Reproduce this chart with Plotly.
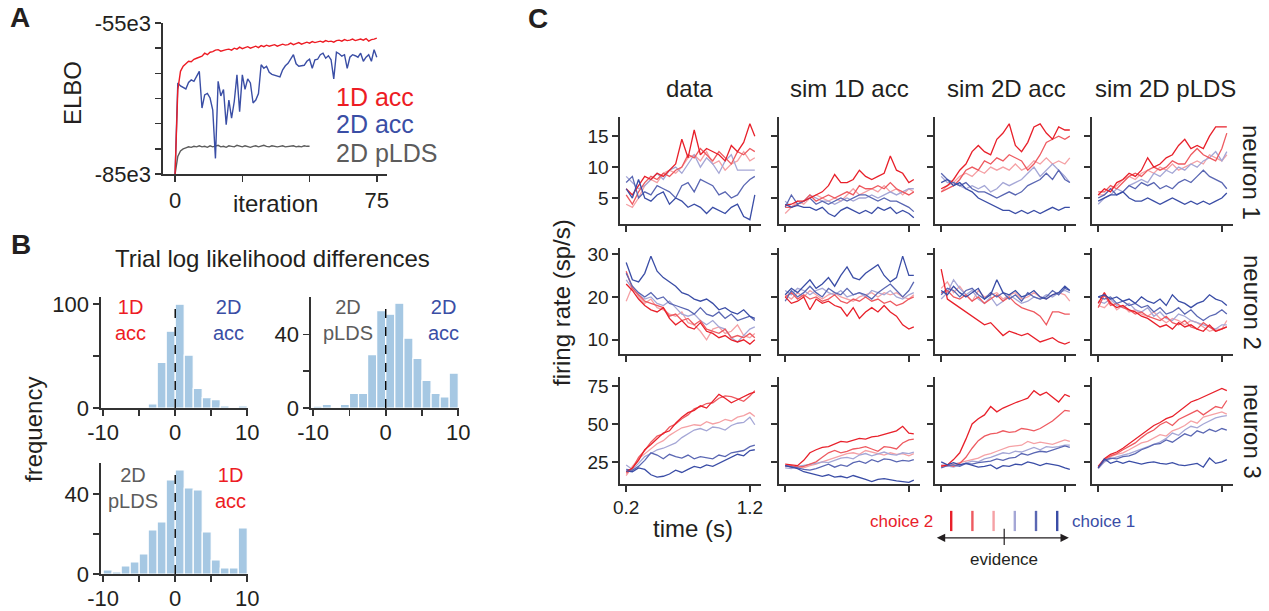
import plotly.graph_objects as go

W, H = 1269, 611
FONT = "Liberation Sans, Arial, Helvetica, sans-serif"
INK = "#231f20"
AXC = "#333333"
RED = "#ed1c24"
BLUE = "#3a4ea5"
GRAY = "#5c5c5c"
BAR = "#a6c8e3"
SHADES = ["#e8202a", "#ee5a60", "#f5a1a5", "#a5a7d6", "#5a67b3", "#3a4da6"]

# ---------------- Panel A : ELBO (in units of 1e3) ----------------
ITERATIONS = list(range(76))
PLDS_ITERATIONS = list(range(51))
ELBO_1D_ACC = [-85.0, -68.3, -64.6, -63.6, -63.1, -62.6, -62.7, -62.2, -62.0, -61.8,
               -61.6, -61.0, -61.3, -60.8, -60.7, -60.4, -60.3, -60.6, -60.4, -60.3,
               -60.2, -60.4, -60.0, -60.2, -59.8, -60.1, -59.9, -59.7, -60.0, -59.8,
               -59.6, -59.9, -59.5, -59.7, -59.4, -59.6, -59.5, -59.3, -59.6, -59.4,
               -59.2, -59.4, -59.3, -59.0, -59.3, -59.1, -58.9, -59.2, -59.0, -58.8,
               -59.0, -58.7, -58.9, -58.8, -58.6, -58.8, -58.5, -58.7, -58.6, -58.8,
               -58.5, -58.4, -58.6, -58.3, -58.5, -58.4, -58.2, -58.5, -58.3, -58.2,
               -58.4, -58.1, -58.6, -58.3, -58.2, -58.0]
ELBO_2D_ACC = [-85.0, -66.9, -67.5, -67.8, -68.1, -66.8, -66.3, -66.6, -65.5, -64.6,
               -71.9, -69.3, -69.0, -69.9, -72.3, -81.9, -66.6, -69.5, -68.2, -75.2,
               -70.3, -73.9, -70.6, -65.3, -72.6, -65.3, -68.2, -66.1, -66.9, -70.9,
               -70.3, -69.0, -63.3, -64.0, -63.6, -64.8, -65.2, -65.4, -65.6, -65.7,
               -64.3, -63.5, -63.0, -62.0, -61.3, -63.1, -63.6, -63.5, -63.4, -62.6,
               -62.2, -64.0, -62.3, -62.2, -61.3, -61.0, -62.0, -61.5, -62.3, -66.1,
               -60.8, -61.1, -61.6, -61.3, -64.0, -61.8, -61.3, -61.5, -61.8, -61.0,
               -62.6, -61.8, -61.3, -62.6, -60.3, -61.8]
ELBO_2D_PLDS = [-85.0, -81.5, -80.4, -80.0, -79.8, -79.6, -79.7, -79.5, -79.6, -79.4,
                -79.6, -79.5, -79.7, -79.4, -79.6, -79.5, -79.3, -79.6, -79.5, -79.7,
                -79.4, -79.5, -79.6, -79.3, -79.5, -79.6, -79.4, -79.5, -79.7, -79.5,
                -79.4, -79.6, -79.5, -79.3, -79.5, -79.6, -79.4, -79.5, -79.6, -79.5,
                -79.4, -79.6, -79.5, -79.5, -79.4, -79.6, -79.5, -79.6, -79.4, -79.5, -79.5]
A_XTICKS = [0, 25, 50, 75]
A_XTICKTEXT = ["0", "", "", "75"]
A_YTICKS = [-85, -80, -75, -70, -65, -60, -55]
A_YTICKTEXT = ["-85e3", "", "", "", "", "", "-55e3"]

# ---------------- Panel B : histograms ----------------
BIN_CENTERS = [-9.375, -8.125, -6.875, -5.625, -4.375, -3.125, -1.875, -0.625,
               0.625, 1.875, 3.125, 4.375, 5.625, 6.875, 8.125, 9.375]
BIN_WIDTH = 1.25
HIST_1D_VS_2D = [0, 0, 0, 0, 0, 4, 44, 74, 100, 51, 19, 10, 8, 2, 1, 2]
HIST_PLDS_VS_2D = [1, 2, 0, 2, 8, 8, 29, 53, 51, 57, 38, 27, 15, 8, 6, 19]
HIST_PLDS_VS_1D = [2, 1, 4, 6, 10, 22, 26, 47, 52, 43, 42, 21, 7, 3, 3, 23]
B_XTICKS = [-10, -5, 0, 5, 10]
B_XTICKTEXT = ["-10", "", "0", "", "10"]

# ---------------- Panel C : firing rates ----------------
TIME = [0.20, 0.25, 0.30, 0.35, 0.40, 0.45, 0.50, 0.55, 0.60, 0.65, 0.70,
        0.75, 0.80, 0.85, 0.90, 0.95, 1.00, 1.05, 1.10, 1.15, 1.20, 1.24]
COLUMN_TITLES = ["data", "sim 1D acc", "sim 2D acc", "sim 2D pLDS"]
ROW_TITLES = ["neuron 1", "neuron 2", "neuron 3"]
# each: six traces ordered choice-2 (strong red) ... choice-1 (strong blue)
N1_DATA = [
    [6.5, 5.5, 7.0, 8.5, 8.0, 9.0, 8.5, 9.5, 10.5, 14.5, 11.5, 16.0, 12.0, 13.0, 12.5, 12.0, 11.0, 13.5, 12.5, 14.0, 17.0, 15.0],
    [5.5, 4.0, 6.0, 7.5, 8.5, 8.0, 9.0, 8.5, 9.5, 10.0, 12.0, 11.5, 13.0, 12.0, 11.0, 12.5, 11.5, 10.5, 12.5, 12.0, 13.0, 12.5],
    [4.0, 3.5, 5.0, 7.0, 8.0, 7.5, 9.0, 9.5, 9.0, 10.0, 11.5, 12.0, 11.0, 12.5, 10.5, 11.0, 9.5, 10.5, 11.0, 12.5, 11.0, 11.5],
    [8.5, 7.5, 6.5, 7.0, 8.0, 9.0, 8.0, 9.5, 10.0, 9.0, 10.5, 12.0, 10.0, 11.5, 10.5, 9.0, 11.0, 12.0, 9.5, 9.5, 9.5, 9.5],
    [7.5, 8.5, 5.0, 6.0, 5.5, 7.0, 6.5, 6.0, 5.0, 7.0, 7.5, 6.0, 8.0, 7.5, 7.0, 5.5, 6.0, 5.0, 5.5, 7.0, 8.0, 8.5],
    [6.5, 5.0, 8.0, 5.0, 4.5, 5.5, 6.0, 4.0, 5.0, 4.5, 3.5, 4.0, 3.5, 2.5, 3.5, 3.0, 2.5, 3.5, 4.0, 2.0, 1.5, 5.5],
]
N1_SIM_1D = [
    [3.8, 4.0, 4.5, 4.5, 5.0, 5.5, 6.0, 7.0, 8.8, 7.5, 7.5, 8.0, 9.5, 8.5, 8.0, 8.5, 9.0, 11.8, 9.5, 9.0, 7.5, 8.0],
    [3.5, 3.5, 4.0, 4.5, 5.5, 4.5, 5.0, 5.5, 5.0, 5.5, 6.0, 5.5, 7.0, 6.5, 6.5, 7.0, 6.5, 7.5, 6.5, 6.0, 5.5, 6.0],
    [2.5, 3.5, 4.5, 4.0, 5.0, 5.5, 5.0, 4.5, 5.0, 4.5, 5.5, 6.5, 5.5, 6.0, 6.5, 6.0, 7.0, 6.0, 6.5, 5.5, 6.5, 6.0],
    [4.5, 3.5, 4.0, 4.5, 5.5, 5.0, 4.5, 4.5, 4.0, 4.5, 5.0, 4.5, 5.0, 5.0, 5.5, 5.0, 5.5, 6.0, 5.5, 6.0, 6.5, 6.5],
    [3.5, 5.5, 4.0, 4.5, 5.0, 4.0, 4.5, 4.0, 4.5, 5.0, 4.5, 5.0, 5.5, 5.5, 5.0, 4.5, 5.0, 4.5, 4.5, 4.0, 3.5, 2.8],
    [4.0, 3.5, 3.8, 3.5, 3.5, 3.0, 3.5, 2.5, 2.0, 3.0, 3.5, 3.0, 2.5, 3.0, 2.5, 3.5, 3.0, 3.5, 2.5, 3.0, 2.5, 1.8],
]
N1_SIM_2D = [
    [6.5, 7.0, 8.0, 9.5, 10.5, 12.5, 13.5, 12.5, 12.0, 14.5, 15.5, 17.0, 13.5, 12.5, 14.0, 16.5, 17.0, 15.5, 14.5, 16.5, 16.0, 16.0],
    [6.0, 6.5, 7.0, 8.0, 9.5, 10.0, 9.5, 11.0, 10.5, 11.5, 11.0, 12.0, 11.5, 11.0, 9.5, 10.5, 12.0, 14.0, 14.5, 15.0, 14.5, 15.0],
    [6.0, 7.0, 7.5, 8.5, 9.0, 8.5, 9.5, 9.0, 10.0, 9.5, 10.0, 9.5, 10.5, 9.5, 10.0, 11.0, 10.5, 11.5, 10.5, 11.0, 10.5, 11.5],
    [8.5, 7.5, 7.5, 7.0, 6.5, 7.0, 6.5, 7.0, 6.0, 6.5, 7.5, 7.0, 7.5, 8.0, 9.0, 10.0, 8.5, 9.5, 10.5, 9.5, 8.5, 7.5],
    [9.0, 8.0, 7.5, 7.0, 7.5, 6.5, 6.0, 6.0, 5.5, 5.0, 5.5, 6.0, 5.5, 6.0, 7.0, 7.5, 8.0, 9.0, 8.0, 9.5, 8.0, 7.5],
    [7.5, 8.0, 7.0, 7.5, 6.5, 6.0, 5.0, 4.5, 4.0, 3.5, 3.0, 3.0, 2.5, 3.0, 2.5, 3.0, 2.5, 3.0, 3.5, 3.0, 3.5, 3.5],
]
N1_SIM_PLDS = [
    [5.5, 6.5, 6.0, 7.5, 8.0, 9.0, 8.5, 9.5, 11.5, 10.0, 10.5, 11.5, 12.0, 13.5, 14.5, 13.0, 13.5, 13.0, 15.0, 16.5, 16.5, 16.5],
    [6.0, 6.0, 7.0, 6.5, 7.5, 8.5, 9.0, 8.5, 9.5, 10.0, 9.5, 10.0, 11.0, 10.5, 10.5, 12.0, 13.0, 12.0, 11.5, 11.0, 13.0, 15.5],
    [5.5, 5.5, 6.5, 7.0, 8.0, 8.5, 8.0, 9.0, 9.5, 9.0, 10.0, 9.5, 10.5, 9.5, 10.0, 10.5, 11.0, 10.5, 12.0, 11.5, 11.0, 12.0],
    [4.0, 5.0, 5.5, 6.5, 6.0, 7.0, 7.5, 8.0, 7.5, 9.0, 8.5, 9.5, 9.0, 10.0, 9.5, 10.5, 10.0, 11.0, 11.5, 12.5, 11.0, 12.5],
    [5.0, 5.5, 6.5, 5.5, 6.0, 7.0, 6.5, 7.5, 7.0, 7.5, 6.5, 7.0, 6.5, 7.5, 8.0, 7.5, 8.5, 9.5, 8.5, 8.0, 7.5, 6.5],
    [4.5, 5.0, 5.5, 5.5, 6.0, 5.0, 4.5, 4.5, 5.0, 4.5, 4.0, 4.5, 5.0, 4.5, 4.0, 4.5, 4.0, 4.5, 4.0, 4.5, 5.0, 5.8],
]
N2_DATA = [
    [23.0, 21.5, 19.5, 18.0, 17.0, 16.5, 17.5, 15.0, 13.5, 14.5, 13.0, 12.5, 14.0, 12.0, 11.5, 10.5, 11.0, 10.0, 9.5, 10.0, 9.0, 10.0],
    [26.0, 22.0, 20.5, 19.0, 18.5, 18.0, 17.5, 15.5, 16.0, 14.5, 15.0, 13.5, 14.5, 12.5, 12.0, 11.5, 12.5, 10.5, 11.0, 10.5, 11.5, 10.5],
    [19.0, 22.5, 20.0, 18.5, 19.5, 17.5, 17.0, 16.0, 15.5, 16.5, 14.0, 13.5, 12.0, 10.0, 12.5, 13.0, 11.5, 12.0, 13.5, 11.0, 10.5, 11.5],
    [24.0, 22.0, 20.5, 19.5, 20.0, 18.5, 18.0, 19.0, 17.5, 16.0, 15.5, 16.0, 14.5, 13.5, 14.5, 13.0, 12.5, 10.5, 9.5, 11.0, 12.5, 13.0],
    [25.5, 22.5, 21.0, 20.0, 21.0, 19.5, 20.0, 18.5, 18.0, 17.5, 17.0, 16.0, 17.5, 16.0, 15.5, 16.5, 15.0, 16.0, 14.5, 15.0, 15.5, 14.5],
    [28.0, 24.0, 23.5, 25.5, 29.5, 26.0, 24.5, 23.5, 22.5, 21.0, 20.5, 19.5, 19.0, 19.5, 18.5, 17.0, 17.5, 16.5, 16.0, 17.0, 15.5, 15.0],
]
N2_SIM_1D = [
    [20.0, 18.5, 19.0, 20.0, 17.0, 19.5, 18.5, 19.0, 18.0, 17.5, 15.5, 17.5, 15.0, 16.5, 17.5, 16.5, 18.0, 16.5, 15.5, 13.5, 12.5, 13.0],
    [20.0, 21.0, 19.5, 20.5, 19.5, 20.0, 19.0, 19.5, 20.5, 19.0, 18.5, 19.5, 19.0, 20.0, 19.0, 19.5, 18.5, 19.0, 18.0, 18.5, 19.5, 20.0],
    [20.5, 19.5, 21.0, 20.0, 21.5, 20.5, 19.5, 20.5, 21.0, 20.0, 19.5, 19.0, 20.0, 20.5, 21.0, 20.0, 21.0, 20.5, 21.0, 20.0, 19.5, 20.5],
    [21.5, 20.5, 22.0, 21.5, 20.5, 21.5, 22.0, 21.0, 20.5, 21.5, 20.0, 20.5, 21.0, 20.0, 21.5, 21.0, 20.5, 21.5, 20.0, 19.5, 20.5, 21.0],
    [19.0, 21.5, 20.0, 21.0, 22.5, 21.0, 20.0, 22.0, 21.0, 20.5, 22.0, 20.5, 21.0, 20.5, 19.5, 21.0, 22.0, 23.0, 21.5, 20.0, 21.5, 23.5],
    [20.5, 22.0, 21.0, 22.5, 24.0, 22.0, 23.0, 24.5, 22.5, 25.0, 27.0, 24.5, 24.0, 25.5, 26.5, 27.5, 25.0, 23.5, 24.5, 29.5, 25.0, 25.0],
]
N2_SIM_2D = [
    [26.5, 19.5, 18.5, 17.5, 16.5, 15.5, 14.5, 13.5, 14.0, 12.5, 11.0, 12.0, 11.5, 11.0, 11.5, 10.5, 9.5, 10.0, 10.5, 9.5, 9.0, 9.5],
    [21.0, 21.5, 20.0, 19.5, 20.5, 19.0, 20.0, 18.5, 19.5, 20.5, 19.0, 20.0, 18.5, 17.5, 17.0, 16.5, 15.5, 13.5, 16.5, 16.5, 16.0, 16.0],
    [22.0, 23.5, 21.0, 22.5, 20.5, 19.0, 21.5, 20.0, 20.5, 21.0, 19.5, 20.5, 21.0, 19.5, 20.0, 21.0, 20.0, 19.5, 20.5, 21.0, 20.5, 19.0],
    [19.5, 21.0, 24.0, 22.0, 20.5, 21.5, 19.5, 18.5, 20.0, 18.0, 19.0, 20.5, 19.5, 18.5, 19.0, 20.0, 19.5, 20.5, 20.0, 21.0, 21.5, 21.0],
    [20.5, 22.0, 21.5, 20.0, 21.5, 22.0, 20.5, 19.5, 21.0, 20.0, 21.0, 19.5, 20.5, 19.0, 21.0, 20.0, 19.5, 20.0, 21.5, 20.5, 22.0, 21.5],
    [21.5, 20.5, 22.5, 21.0, 20.0, 21.0, 22.0, 19.5, 20.5, 24.0, 21.0, 20.5, 21.5, 20.0, 20.5, 21.5, 20.0, 19.5, 20.5, 21.0, 22.5, 21.5],
]
N2_SIM_PLDS = [
    [18.5, 21.0, 18.5, 17.5, 18.0, 17.0, 16.5, 15.5, 15.0, 14.0, 13.0, 13.5, 12.5, 14.0, 13.0, 13.5, 12.5, 12.0, 13.5, 12.0, 12.5, 13.0],
    [17.5, 20.5, 18.0, 18.5, 17.5, 17.0, 16.0, 16.5, 15.5, 15.0, 14.5, 15.5, 14.0, 13.5, 14.5, 13.0, 12.5, 14.0, 13.0, 12.0, 12.5, 13.0],
    [18.0, 17.5, 19.0, 17.0, 18.0, 16.5, 17.0, 16.0, 15.5, 16.5, 15.0, 14.0, 15.0, 14.5, 13.5, 14.5, 14.0, 13.0, 12.0, 12.5, 12.5, 14.5],
    [19.0, 18.5, 19.5, 18.0, 17.5, 18.5, 17.0, 16.5, 17.5, 15.5, 16.5, 15.0, 14.5, 16.0, 15.5, 14.5, 14.0, 13.5, 13.0, 12.5, 13.5, 13.5],
    [20.0, 19.5, 20.0, 18.5, 19.0, 18.0, 18.5, 17.5, 18.0, 16.5, 17.5, 16.0, 16.5, 17.5, 16.0, 17.0, 15.5, 14.5, 15.5, 16.0, 17.0, 16.0],
    [20.0, 20.5, 19.5, 20.0, 19.0, 19.5, 18.5, 20.0, 19.0, 18.5, 19.5, 18.0, 20.5, 19.0, 18.5, 17.5, 18.5, 19.0, 20.5, 19.5, 19.0, 18.0],
]
N3_DATA = [
    [18.5, 21.0, 26.0, 33.0, 36.5, 40.0, 44.0, 45.5, 50.5, 54.5, 57.5, 59.0, 62.0, 60.5, 65.0, 69.5, 67.0, 64.0, 66.0, 68.0, 70.0, 71.0],
    [17.5, 20.5, 28.0, 32.5, 38.0, 42.0, 43.5, 48.0, 50.0, 53.5, 56.0, 60.0, 61.5, 63.5, 64.0, 67.0, 68.5, 68.0, 66.5, 65.0, 68.5, 72.0],
    [16.0, 22.0, 27.0, 30.5, 34.0, 37.0, 39.0, 42.5, 45.0, 47.5, 48.5, 49.5, 49.0, 51.5, 50.0, 51.0, 53.0, 52.0, 54.5, 55.5, 57.5, 55.0],
    [23.0, 20.0, 24.0, 28.5, 30.5, 33.0, 34.0, 35.5, 37.5, 41.0, 43.5, 46.0, 47.0, 45.5, 48.0, 47.5, 46.0, 49.0, 50.5, 51.0, 54.5, 49.5],
    [20.0, 19.5, 22.0, 26.0, 31.0, 29.5, 27.0, 30.0, 28.5, 27.5, 29.5, 27.0, 28.5, 27.5, 27.0, 29.5, 28.5, 31.0, 31.5, 32.5, 35.0, 36.0],
    [19.0, 18.5, 21.0, 20.0, 16.5, 15.0, 15.5, 17.0, 19.5, 18.0, 20.0, 22.0, 21.0, 23.0, 22.0, 24.0, 25.5, 27.5, 30.0, 29.0, 32.5, 33.0],
]
N3_SIM_1D = [
    [23.5, 23.0, 22.5, 26.0, 31.0, 33.0, 34.5, 35.0, 37.0, 38.5, 38.0, 39.0, 40.5, 40.0, 41.5, 42.0, 43.0, 44.5, 45.5, 48.5, 44.0, 43.5],
    [22.0, 22.5, 21.5, 22.0, 23.5, 25.0, 28.0, 31.0, 32.5, 31.0, 32.0, 33.5, 34.0, 35.0, 33.5, 32.0, 35.0, 34.5, 33.5, 37.5, 39.5, 40.0],
    [22.5, 21.5, 22.0, 21.0, 22.5, 23.5, 25.0, 26.5, 28.0, 29.5, 30.5, 31.0, 30.0, 32.5, 31.5, 30.5, 29.5, 31.0, 30.0, 30.5, 29.0, 30.5],
    [21.0, 20.5, 22.0, 22.5, 23.0, 24.0, 25.0, 24.5, 26.0, 27.5, 28.0, 27.0, 29.5, 30.5, 29.0, 30.0, 31.5, 30.0, 29.5, 31.0, 30.5, 31.5],
    [22.5, 22.0, 21.0, 20.0, 19.5, 20.5, 22.0, 23.5, 21.5, 23.0, 22.0, 24.5, 25.5, 24.0, 26.5, 25.0, 27.0, 26.5, 25.0, 26.0, 25.5, 26.5],
    [22.5, 21.5, 20.5, 18.5, 17.5, 16.0, 15.5, 16.5, 15.0, 15.5, 14.5, 16.0, 15.0, 13.5, 12.0, 13.5, 14.0, 13.0, 12.5, 12.0, 11.5, 13.0],
]
N3_SIM_2D = [
    [22.0, 23.0, 26.5, 31.0, 40.0, 50.0, 53.5, 56.0, 61.5, 58.0, 60.5, 62.5, 64.0, 65.5, 67.0, 72.0, 69.0, 71.0, 68.0, 64.5, 69.5, 68.0],
    [22.5, 23.0, 22.0, 24.0, 28.0, 34.0, 39.0, 42.0, 43.5, 44.0, 45.5, 44.5, 45.0, 47.0, 46.5, 45.5, 47.0, 49.5, 52.0, 55.5, 59.0, 58.5],
    [22.5, 22.0, 23.5, 24.5, 25.0, 26.0, 27.5, 29.5, 30.5, 32.0, 33.5, 35.0, 35.5, 36.0, 38.5, 37.0, 38.0, 37.5, 36.5, 38.0, 39.5, 38.5],
    [23.0, 22.0, 21.5, 23.0, 24.5, 25.5, 25.0, 27.0, 28.0, 29.5, 31.0, 30.5, 32.0, 31.5, 33.0, 34.5, 33.0, 35.0, 34.5, 35.0, 36.0, 36.0],
    [21.0, 22.5, 23.0, 22.0, 24.0, 23.5, 24.5, 25.0, 25.5, 27.0, 26.0, 27.5, 28.0, 30.5, 29.5, 31.0, 32.0, 31.5, 33.0, 34.0, 35.5, 34.5],
    [25.0, 23.0, 24.5, 23.0, 24.0, 22.5, 21.5, 22.0, 23.0, 20.5, 22.5, 22.0, 23.5, 23.0, 25.0, 24.0, 22.5, 24.0, 23.5, 22.5, 21.0, 20.0],
]
N3_SIM_PLDS = [
    [22.0, 27.0, 30.0, 31.5, 34.0, 37.0, 40.0, 43.0, 46.5, 49.0, 51.0, 53.5, 55.0, 58.0, 61.5, 64.5, 66.0, 68.0, 70.0, 71.5, 73.5, 72.0],
    [21.0, 26.5, 29.0, 30.5, 33.0, 35.5, 37.5, 41.0, 44.0, 46.0, 49.5, 51.5, 49.0, 53.0, 55.0, 57.5, 59.0, 56.0, 58.5, 61.5, 60.5, 65.5],
    [21.5, 25.0, 28.5, 30.0, 31.0, 33.0, 35.0, 37.5, 38.5, 41.0, 43.0, 42.0, 45.5, 47.0, 49.0, 52.0, 50.5, 54.5, 55.5, 56.5, 58.0, 56.5],
    [20.5, 25.0, 27.0, 28.5, 29.5, 30.5, 32.0, 34.0, 35.5, 37.0, 38.0, 40.5, 44.0, 42.5, 46.0, 48.5, 47.5, 50.0, 52.0, 54.0, 55.0, 55.5],
    [21.0, 26.0, 27.5, 27.0, 28.5, 29.0, 30.5, 33.0, 34.5, 36.5, 37.0, 39.5, 38.0, 40.5, 43.5, 42.0, 45.5, 44.0, 46.5, 45.0, 47.0, 46.0],
    [21.0, 27.0, 24.0, 25.5, 24.0, 25.5, 24.5, 23.5, 24.5, 25.0, 24.0, 23.5, 24.5, 23.0, 22.5, 23.0, 24.0, 21.5, 27.5, 24.0, 25.0, 26.5],
]
ROW_YTICKS = [[5, 10, 15], [10, 20, 30], [25, 50, 75]]
ROW_YRANGES = [[0.8, 18.1], [6.7, 31.4], [10.4, 81.0]]
C_XTICKS = [0.2, 1.2]
LEGEND_LEVELS = [1, 2, 3, 4, 5, 6]

# ---------------- helpers ----------------
fig = go.Figure()
layout_axes = {}


def axname(k):
    return ("" if k == 1 else str(k))


def base(size):
    return dict(showline=True, linecolor=AXC, linewidth=1.6, ticks="outside", ticklen=6,
                tickwidth=1.6, tickcolor=AXC, showgrid=False, zeroline=False, automargin=False,
                tickfont=dict(family=FONT, size=size, color=INK), fixedrange=True)


def add_axes(k, xpx, ypx, xkw, ykw):
    s = axname(k)
    xd = base(xkw.pop("size", 19)); xd.update(xkw)
    yd = base(ykw.pop("size", 19)); yd.update(ykw)
    xd.update(domain=[xpx[0] / W, xpx[1] / W], anchor="y" + s)
    yd.update(domain=[1 - ypx[1] / H, 1 - ypx[0] / H], anchor="x" + s)
    layout_axes["xaxis" + s] = xd
    layout_axes["yaxis" + s] = yd
    return "x" + s, "y" + s


annotations = []


def ann(text, x, y, size, color=INK, xanchor="center", yanchor="middle", angle=0, bold=False):
    annotations.append(dict(text=("<b>%s</b>" % text) if bold else text, x=x / W, y=1 - y / H,
                            xref="paper", yref="paper", xanchor=xanchor, yanchor=yanchor,
                            showarrow=False, textangle=angle,
                            font=dict(family=FONT, size=size, color=color)))


# ---------------- Panel A ----------------
xa, ya = add_axes(1, (163, 387), (23, 174),
                  dict(size=22, range=[-4.5, 78.8], tickvals=A_XTICKS, ticktext=A_XTICKTEXT),
                  dict(size=22, range=[-85, -55], tickvals=A_YTICKS, ticktext=A_YTICKTEXT))
fig.add_trace(go.Scatter(x=PLDS_ITERATIONS, y=ELBO_2D_PLDS, mode="lines", line=dict(color=GRAY, width=1.4), xaxis=xa, yaxis=ya))
fig.add_trace(go.Scatter(x=ITERATIONS, y=ELBO_2D_ACC, mode="lines", line=dict(color=BLUE, width=1.4), xaxis=xa, yaxis=ya))
fig.add_trace(go.Scatter(x=ITERATIONS, y=ELBO_1D_ACC, mode="lines", line=dict(color=RED, width=1.4), xaxis=xa, yaxis=ya))

# ---------------- Panel B ----------------
hists = [
    (2, (101, 248), (297, 408), HIST_1D_VS_2D, [0, 107], [0, 50, 100], ["0", "", "100"]),
    (3, (311, 459), (297, 408), HIST_PLDS_VS_2D, [0, 60.4], [0, 20, 40], ["0", "", "40"]),
    (4, (101, 248), (463, 574), HIST_PLDS_VS_1D, [0, 55.5], [0, 20, 40], ["0", "", "40"]),
]
for k, xp, yp, counts, yr, yt, ytt in hists:
    xh, yh = add_axes(k, xp, yp,
                      dict(size=22, range=[-10.3, 10.1], tickvals=B_XTICKS, ticktext=B_XTICKTEXT,
                           ticklabelstandoff=-2),
                      dict(size=22, range=yr, tickvals=yt, ticktext=ytt))
    fig.add_trace(go.Bar(x=BIN_CENTERS, y=counts, width=BIN_WIDTH,
                         marker=dict(color=BAR, line=dict(color="white", width=1.2)),
                         xaxis=xh, yaxis=yh))
    fig.add_trace(go.Scatter(x=[0, 0], y=[0, max(counts)], mode="lines",
                             line=dict(color="black", width=1.4, dash="dash"), xaxis=xh, yaxis=yh))

# ---------------- Panel C ----------------
ROWS = [[N1_DATA, N1_SIM_1D, N1_SIM_2D, N1_SIM_PLDS],
        [N2_DATA, N2_SIM_1D, N2_SIM_2D, N2_SIM_PLDS],
        [N3_DATA, N3_SIM_1D, N3_SIM_2D, N3_SIM_PLDS]]
COL_LEFT = [620, 779, 935, 1092]
ROW_PX = [(117, 224), (248, 354), (377, 484)]
k = 5
for r in range(3):
    for c in range(4):
        first = c == 0
        bottom_lab = (r == 2 and c == 0)
        xc, yc = add_axes(k, (COL_LEFT[c], COL_LEFT[c] + 141), ROW_PX[r],
                          dict(size=19, range=[0.15, 1.29], tickvals=C_XTICKS,
                               ticktext=["0.2", "1.2"] if bottom_lab else ["", ""]),
                          dict(size=19, range=ROW_YRANGES[r], tickvals=ROW_YTICKS[r],
                               ticktext=[str(v) for v in ROW_YTICKS[r]] if first else ["", "", ""]))
        traces = ROWS[r][c]
        for i in [2, 3, 1, 4, 0, 5]:
            fig.add_trace(go.Scatter(x=TIME, y=traces[i], mode="lines",
                                     line=dict(color=SHADES[i], width=1.3),
                                     xaxis=xc, yaxis=yc))
        k += 1

# legend axis (evidence strength)
xl, yl = add_axes(17, (930, 1080), (505, 550),
                  dict(range=[0, 7.075], visible=False), dict(range=[0, 1], visible=False))
for lev, col in zip(LEGEND_LEVELS, SHADES):
    fig.add_trace(go.Scatter(x=[lev, lev], y=[0.42, 0.87], mode="lines",
                             line=dict(color=col, width=2.4), xaxis=xl, yaxis=yl))
fig.add_trace(go.Scatter(x=[3.5, 3.5], y=[0.11, 0.47], mode="lines",
                         line=dict(color=INK, width=1.2), xaxis=xl, yaxis=yl))
annotations.append(dict(x=6.55, y=0.27, ax=0.25, ay=0.27, xref=xl, yref=yl, axref=xl, ayref=yl,
                        text="", showarrow=True, arrowhead=2, arrowside="end+start",
                        arrowsize=1.2, arrowwidth=1.4, arrowcolor=INK))

# ---------------- texts ----------------
ann("A", 8, 18, 28, xanchor="left", bold=True)
ann("B", 9, 244, 28, xanchor="left", bold=True)
ann("C", 526, 19, 28, xanchor="left", bold=True)
ann("ELBO", 72, 93, 24, angle=-90)
ann("iteration", 275, 204, 24)
ann("1D acc", 334, 97, 25, color=RED, xanchor="left")
ann("2D acc", 334, 124, 25, color=BLUE, xanchor="left")
ann("2D pLDS", 334, 153, 25, color=GRAY, xanchor="left")

ann("Trial log likelihood differences", 272, 258, 24)
ann("frequency", 33, 430, 24, angle=-90)
ann("1D<br>acc", 130, 320, 20, color=RED)
ann("2D<br>acc", 228, 320, 20, color=BLUE)
ann("2D<br>pLDS", 348, 320, 20, color=GRAY)
ann("2D<br>acc", 443, 320, 20, color=BLUE)
ann("2D<br>pLDS", 133, 488, 20, color=GRAY)
ann("1D<br>acc", 230, 488, 20, color=RED)

for title, cx in zip(COLUMN_TITLES, [689, 849, 1006, 1165]):
    ann(title, cx, 89, 24)
for title, cy in zip(ROW_TITLES, [172, 302, 431]):
    ann(title, 1252, cy, 24, angle=90)
ann("firing rate (sp/s)", 561, 303, 24, angle=-90)
ann("time (s)", 693, 528, 24)
ann("choice 2", 935, 521, 17, color=SHADES[0], xanchor="right")
ann("choice 1", 1070, 521, 17, color=SHADES[5], xanchor="left")
ann("evidence", 1004, 559, 17)

fig.update_layout(width=W, height=H, margin=dict(l=0, r=0, t=0, b=0, pad=0, autoexpand=False),
                  paper_bgcolor="white", plot_bgcolor="white", showlegend=False,
                  bargap=0, annotations=annotations, **layout_axes)
fig.write_html("out.html", config={"displayModeBar": False, "staticPlot": True},
               post_script="document.body.style.margin='0px';")
